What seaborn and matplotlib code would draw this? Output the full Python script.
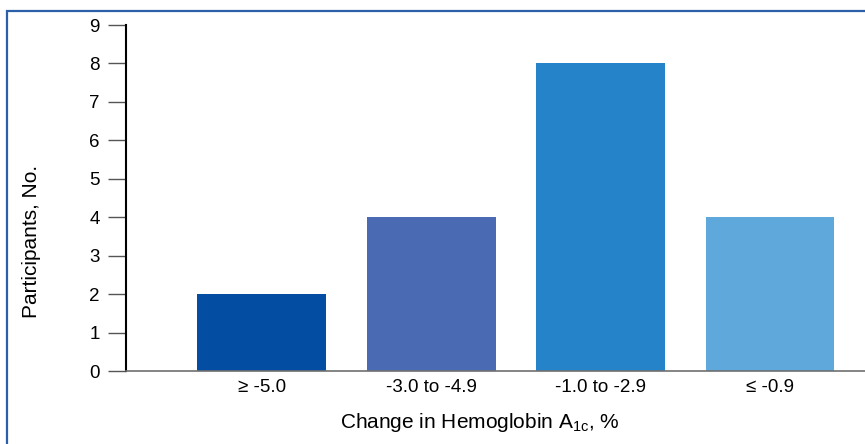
import matplotlib
matplotlib.use("Agg")
import matplotlib.pyplot as plt
import seaborn as sns
import pandas as pd
from matplotlib.patches import Rectangle

# Data
categories = ["\u2265 -5.0", "-3.0 to -4.9", "-1.0 to -2.9", "\u2264 -0.9"]
participants = [2, 4, 8, 4]
bar_colors = ["#034ea2", "#4a6bb4", "#2584c9", "#5ea8dc"]
y_ticks = list(range(0, 10))

sns.set_style("white")
plt.rcParams['font.family'] = ['Liberation Sans', 'DejaVu Sans']
plt.rcParams['mathtext.fontset'] = 'custom'
plt.rcParams['mathtext.rm'] = 'Liberation Sans'
plt.rcParams['mathtext.it'] = 'Liberation Sans'
plt.rcParams['text.color'] = 'black'
plt.rcParams['axes.labelcolor'] = 'black'
plt.rcParams['xtick.color'] = 'black'
plt.rcParams['ytick.color'] = 'black'

df = pd.DataFrame({"category": categories, "participants": participants})

fig = plt.figure(figsize=(8.65, 4.44), dpi=100)
W, H = 865, 444
ax = fig.add_axes([126 / W, 1 - 371 / H, 1 - 126 / W, (371 - 25) / H])

sns.barplot(data=df, x="category", y="participants", hue="category",
            palette=dict(zip(categories, bar_colors)), width=0.76,
            saturation=1, legend=False, linewidth=0, ax=ax)

ax.set_xlim(-0.8, 3.56)
ax.set_ylim(0, 9)
ax.set_yticks(y_ticks)

for side in ["top", "right"]:
    ax.spines[side].set_visible(False)
ax.spines["left"].set_color("black")
ax.spines["left"].set_linewidth(1.5)
ax.spines["bottom"].set_color("#6f6f6f")
ax.spines["bottom"].set_linewidth(1.2)

ax.tick_params(axis="y", direction="out", length=13, width=1, color="#555555",
               labelsize=13.5, pad=6, left=True, labelcolor="black")
ax.tick_params(axis="x", length=0, labelsize=13.5, pad=6, labelcolor="black")

ax.set_xlabel(r"Change in Hemoglobin A$_{\mathregular{1c}}$, %", fontsize=15)
ax.set_ylabel("Participants, No.", fontsize=15)
ax.xaxis.set_label_coords((480 - 126) / (W - 126), (371 - 411) / (371 - 25))
ax.yaxis.set_label_coords((41 - 126) / (W - 126), (371 - 241) / (371 - 25))

# blue frame around the figure (partly cropped)
fig.patches.append(Rectangle((7 / W, -0.1), 2, 1 - 11 / H + 0.1,
                             transform=fig.transFigure, fill=False,
                             edgecolor="#2b5fa8", linewidth=1.6))

fig.savefig("out.png", dpi=100)
